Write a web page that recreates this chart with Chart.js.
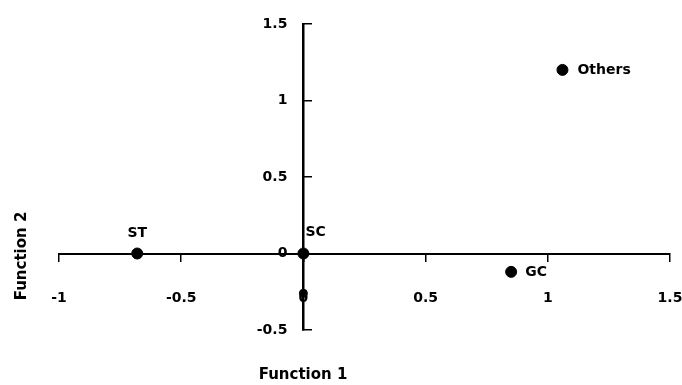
<!DOCTYPE html>
<html>
<head>
<meta charset="utf-8">
<script src="https://cdn.jsdelivr.net/npm/chart.js@4/dist/chart.umd.min.js"></script>
<style>
html,body{margin:0;padding:0;background:#fff}
#wrap{width:682px;height:385px}
</style>
</head>
<body>
<div id="wrap"><canvas id="c" width="682" height="385"></canvas></div>
<script>
// group centroids on the two discriminant functions
const groups=['ST','SC','GC','Others',''];
const fn1=[-0.68,0,0.85,1.06,0];
const fn2=[0,0,-0.12,1.2,-0.26];
const xTicks=[-1,-0.5,0,0.5,1,1.5];
const yTicks=[-0.5,0,0.5,1,1.5];
const xTitle='Function 1', yTitle='Function 2';

const FONT='"DejaVu Sans", sans-serif';
Chart.defaults.font.family=FONT;
Chart.defaults.font.size=14;
Chart.defaults.font.weight='bold';
Chart.defaults.color='#000';

// where each name sits relative to its point
const labelPos={
  ST:{dx:0,dy:-20,align:'center'},
  SC:{dx:2,dy:-21,align:'left'},
  GC:{dx:14,dy:0,align:'left'},
  Others:{dx:15,dy:0,align:'left'}
};

const pointNames={
  id:'pointNames',
  afterDatasetsDraw(chart){
    let ctx=chart.ctx, meta=chart.getDatasetMeta(0);
    ctx.save();
    ctx.font='bold 14px '+FONT; ctx.fillStyle='#000'; ctx.textBaseline='middle';
    meta.data.forEach((el,i)=>{
      let p=labelPos[groups[i]]; if(!p) return;
      ctx.textAlign=p.align;
      ctx.fillText(groups[i],el.x+p.dx,el.y+p.dy);
    });
    ctx.restore();
  }
};

// chart.js puts labels of an axis placed at a value right on the line; push y labels left
const yLabelGap={
  id:'yLabelGap',
  beforeDraw(chart){
    let s=chart.scales.y;
    s.getLabelItems(chart.chartArea).forEach(it=>{it.options.translation[0]-=16;});
  }
};

const axisTitles={
  id:'axisTitles',
  afterDraw(chart){
    let ctx=chart.ctx;
    ctx.save();
    ctx.font='bold 15px '+FONT; ctx.fillStyle='#000';
    ctx.textAlign='center'; ctx.textBaseline='middle';
    ctx.fillText(xTitle,303,375);
    ctx.translate(22,256); ctx.rotate(-Math.PI/2);
    ctx.fillText(yTitle,0,0);
    ctx.restore();
  }
};

new Chart(document.getElementById('c'),{
  type:'scatter',
  data:{datasets:[{
    data:fn1.map((x,i)=>({x:x,y:fn2[i]})),
    backgroundColor:'#000',borderColor:'#000',
    pointRadius:c=>groups[c.dataIndex]?5.5:4,
    pointHoverRadius:5.5
  }]},
  options:{
    responsive:false,animation:false,devicePixelRatio:1,
    layout:{padding:{left:59,right:12,top:24,bottom:55}},
    plugins:{legend:{display:false},tooltip:{enabled:false}},
    scales:{
      x:{
        type:'linear',min:-1,max:1.5,position:{y:0},
        afterBuildTicks:s=>{s.ticks=xTicks.map(v=>({value:v}));},
        afterFit:s=>{s.height=0;s.paddingLeft=0;s.paddingRight=0;},
        ticks:{autoSkip:false,maxRotation:0,padding:29,callback:v=>String(v)},
        grid:{drawOnChartArea:false,drawTicks:true,tickLength:7,color:'#000',lineWidth:1.5},
        border:{display:true,color:'#000',width:2}
      },
      y:{
        type:'linear',min:-0.5,max:1.5,position:{x:0},
        afterBuildTicks:s=>{s.ticks=yTicks.map(v=>({value:v}));},
        afterFit:s=>{s.width=0;s.paddingTop=0;s.paddingBottom=0;},
        ticks:{autoSkip:false,padding:0,callback:v=>String(v)},
        grid:{drawOnChartArea:false,drawTicks:true,tickLength:-10,color:'#000',lineWidth:1.5},
        border:{display:true,color:'#000',width:2.5}
      }
    }
  },
  plugins:[pointNames,yLabelGap,axisTitles]
});
</script>
</body>
</html>
